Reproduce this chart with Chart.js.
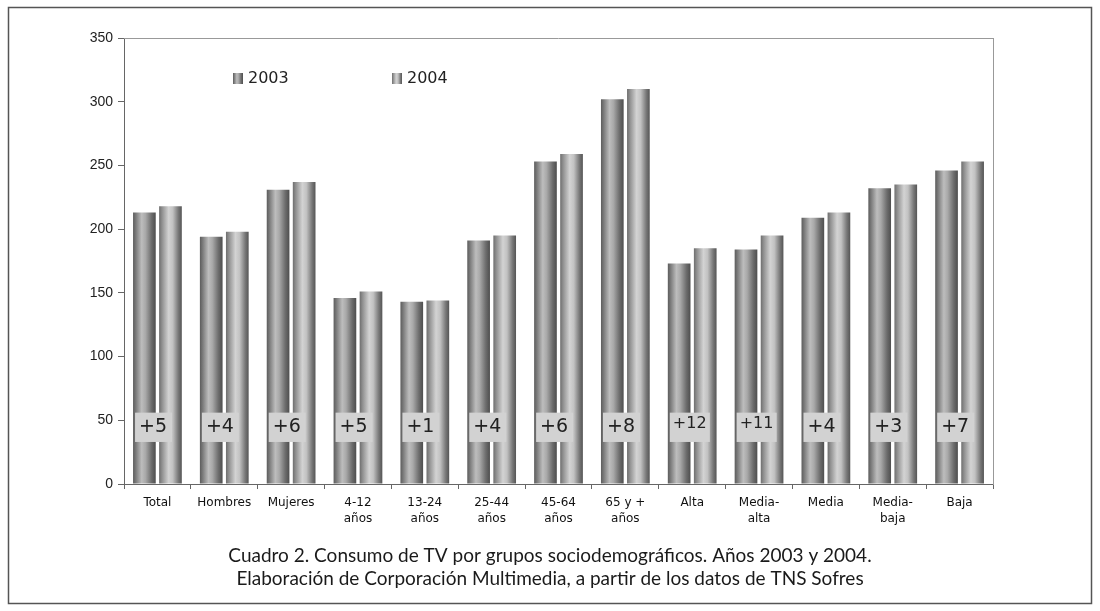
<!DOCTYPE html>
<html>
<head>
<meta charset="utf-8">
<script src="https://cdn.jsdelivr.net/npm/chart.js@4.4.0/dist/chart.umd.min.js"></script>
<style>
  html, body { margin: 0; padding: 0; background: #fff; }
  #wrap { position: relative; width: 1100px; height: 611px; }
</style>
</head>
<body>
<div id="wrap"><canvas id="tvChart"></canvas></div>
<script>
const categories = [
  ["Total"], ["Hombres"], ["Mujeres"], ["4-12", "años"], ["13-24", "años"],
  ["25-44", "años"], ["45-64", "años"], ["65 y +", "años"], ["Alta"],
  ["Media-", "alta"], ["Media"], ["Media-", "baja"], ["Baja"]
];
const values2003 = [213, 194, 231, 146, 143, 191, 253, 302, 173, 184, 209, 232, 246];
const values2004 = [218, 198, 237, 151, 144, 195, 259, 310, 185, 195, 213, 235, 253];
const diffLabels = ["+5", "+4", "+6", "+5", "+1", "+4", "+6", "+8", "+12", "+11", "+4", "+3", "+7"];
const yTicks = [0, 50, 100, 150, 200, 250, 300, 350];
const caption = [
  "Cuadro 2. Consumo de TV por grupos sociodemográficos. Años 2003 y 2004.",
  "Elaboración de Corporación Multimedia, a partir de los datos de TNS Sofres"
];

const CAT_PCT = 0.78;
const BAR_PCT = 0.87;

const stops2003 = [[0, "#5c5c5c"], [0.12, "#7a7a7a"], [0.38, "#bdbdbd"], [0.55, "#a9a9a9"], [0.82, "#6c6c6c"], [1, "#4e4e4e"]];
const stops2004 = [[0, "#6e6e6e"], [0.12, "#8e8e8e"], [0.42, "#d3d3d3"], [0.6, "#c2c2c2"], [0.85, "#777777"], [1, "#555555"]];

function makeGradient(ctx, x0, x1, stops) {
  const g = ctx.createLinearGradient(x0, 0, x1, 0);
  stops.forEach(([o, c]) => g.addColorStop(o, c));
  return g;
}

function barFill(stops, dsIndex) {
  return (c) => {
    const chart = c.chart;
    const x = chart.scales.x;
    if (c.type !== "data" || !x || !x.width) return stops[2][1];
    const catW = x.width / categories.length;
    const slot = catW * CAT_PCT / 2;
    const center = x.getPixelForValue(c.dataIndex) + (dsIndex - 0.5) * slot;
    const half = slot * BAR_PCT / 2;
    return makeGradient(chart.ctx, center - half, center + half, stops);
  };
}

// outer frame + top line of the plot
const framePlugin = {
  id: "frame",
  beforeDraw(chart) {
    const ctx = chart.ctx;
    ctx.save();
    ctx.strokeStyle = "#555";
    ctx.lineWidth = 1.5;
    ctx.strokeRect(8.5, 7.5, 1083, 596);
    ctx.restore();
  },
  afterDraw(chart) {
    const { ctx, chartArea } = chart;
    ctx.save();
    ctx.strokeStyle = "#999";
    ctx.lineWidth = 1;
    ctx.beginPath();
    ctx.moveTo(chartArea.left, chartArea.top + 0.5);
    ctx.lineTo(chartArea.right, chartArea.top + 0.5);
    ctx.stroke();
    ctx.restore();
  }
};

// gray boxes with the differences
const diffPlugin = {
  id: "diffs",
  afterDatasetsDraw(chart) {
    const { ctx } = chart;
    const y = chart.scales.y;
    const meta = chart.getDatasetMeta(0);
    const top = y.getPixelForValue(56);
    const bottom = y.getPixelForValue(33);
    ctx.save();
    meta.data.forEach((bar, i) => {
      const label = diffLabels[i];
      const left = bar.x - bar.width / 2 + 2;
      const w = label.length > 2 ? 40 : 37;
      ctx.fillStyle = "#d2d2d2";
      ctx.fillRect(left, top, w, bottom - top);
      const size = label.length > 2 ? 16 : 19;
      ctx.font = size + "px 'DejaVu Sans'";
      ctx.fillStyle = "#222";
      ctx.textAlign = "left";
      ctx.textBaseline = "middle";
      ctx.fillText(label, left + (label.length > 2 ? 3 : 4), (top + bottom) / 2 + (label.length > 2 ? -3 : 0));
    });
    ctx.restore();
  }
};

// legend inside the plot area
const legendPlugin = {
  id: "innerLegend",
  afterDraw(chart) {
    const { ctx, chartArea } = chart;
    const offsets = [109, 268];
    const stops = [stops2003, stops2004];
    ctx.save();
    chart.data.datasets.forEach((ds, i) => {
      const sx = chartArea.left + offsets[i];
      const sy = chartArea.top + 35;
      ctx.fillStyle = makeGradient(ctx, sx, sx + 10, stops[i]);
      ctx.fillRect(sx, sy, 10, 11);
      ctx.font = "16px 'DejaVu Sans'";
      ctx.fillStyle = "#222";
      ctx.textAlign = "left";
      ctx.textBaseline = "middle";
      ctx.fillText(ds.label, sx + 15, sy + 5.5);
    });
    ctx.restore();
  }
};

new Chart(document.getElementById("tvChart").getContext("2d"), {
  type: "bar",
  data: {
    labels: categories,
    datasets: [
      {
        label: "2003",
        data: values2003,
        backgroundColor: barFill(stops2003, 0),
        borderWidth: 0,
        categoryPercentage: CAT_PCT,
        barPercentage: BAR_PCT,
      },
      {
        label: "2004",
        data: values2004,
        backgroundColor: barFill(stops2004, 1),
        borderWidth: 0,
        categoryPercentage: CAT_PCT,
        barPercentage: BAR_PCT,
      },
    ],
  },
  options: {
    responsive: true,
    maintainAspectRatio: false,
    animation: false,
    layout: { padding: { left: 0, right: 0, top: 38, bottom: 0 } },
    plugins: {
      legend: { display: false },
      tooltip: { enabled: false },
      title: {
        display: true,
        position: "bottom",
        text: caption,
        color: "#1a1a1a",
        font: { family: "Lato", size: 19, weight: "normal", lineHeight: 1.21 },
        padding: { top: 10, bottom: 21 },
      },
    },
    scales: {
      x: {
        grid: { offset: true, drawOnChartArea: false, tickLength: 5, color: "#666" },
        border: { color: "#666" },
        ticks: {
          color: "#111",
          padding: 5,
          maxRotation: 0,
          autoSkip: false,
          font: { family: "DejaVu Sans", size: 12, lineHeight: 1.4 },
        },
        afterFit: (s) => { s.height = 50; },
      },
      y: {
        min: 0,
        max: 350,
        afterBuildTicks: (s) => { s.ticks = yTicks.map((v) => ({ value: v })); },
        grid: { drawOnChartArea: false, tickLength: 6, color: "#666" },
        border: { color: "#666" },
        ticks: {
          color: "#222",
          padding: 5,
          font: { family: "Liberation Sans", size: 14 },
        },
        afterFit: (s) => { s.width = 124; },
      },
      r: {
        position: "right",
        grid: { display: false },
        border: { display: true, color: "#999" },
        ticks: { display: false },
        afterFit: (s) => { s.width = 107; },
      },
    },
  },
  plugins: [framePlugin, diffPlugin, legendPlugin],
});
</script>
</body>
</html>
